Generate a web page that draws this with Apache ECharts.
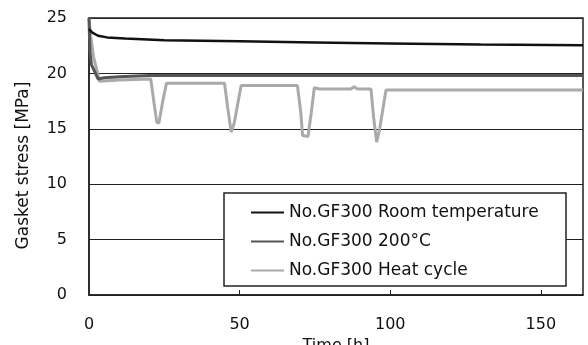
<!DOCTYPE html>
<html lang="ja">
<head>
    <meta charset="UTF-8">
    <title>Gasket stress</title>
    <script src="https://cdn.jsdelivr.net/npm/echarts@6/dist/echarts.min.js"></script>
    <style>
        html, body { margin: 0; padding: 0; background: #fff; }
        #box { width: 588px; height: 345px; }
    </style>
</head>
<body>
    <div id="box"></div>
    <script>
        // 凡例名
        const seriesNames = ['No.GF300 Room temperature', 'No.GF300 200°C', 'No.GF300 Heat cycle']
        const xTicks = [0, 50, 100, 150]

        // Room temperature
        const roomTime = [0, 1, 3, 6, 12, 25, 50, 75, 100, 130, 164]
        const roomStress = [24.0, 23.7, 23.4, 23.25, 23.15, 23.0, 22.9, 22.8, 22.7, 22.6, 22.55]

        // 200°C
        const hotTime = [0, 0.3, 0.8, 3, 5, 10, 20, 164]
        const hotStress = [25, 22, 20.8, 19.5, 19.6, 19.7, 19.8, 19.8]

        // Heat cycle
        const cycleTime = [0, 0.5, 1.5, 3.5, 10, 20.5, 21.5, 22.5, 23.2, 24.5, 25.7, 45, 46, 47.2, 48.2, 50.5,
            69.2, 70.3, 70.9, 72.7, 73.8, 74.8, 76.5, 87, 88, 89, 93.6, 94.5, 95.5, 96.5, 98.6, 164]
        const cycleStress = [25, 23.5, 21.5, 19.3, 19.4, 19.5, 17.5, 15.6, 15.5, 17.5, 19.1, 19.1, 17, 14.7, 15.5, 18.9,
            18.9, 16.5, 14.4, 14.3, 16.5, 18.7, 18.6, 18.6, 18.8, 18.6, 18.6, 16, 13.8, 15, 18.5, 18.5]

        const pairs = (xs, ys) => xs.map((x, i) => [x, ys[i]])

        const font = '"DejaVu Sans", sans-serif'
        var myChart = echarts.init(document.getElementById('box'))
        var option = {
            animation: false,
            grid: {
                left: 89, right: 5, top: 18, bottom: 50,
                outerBoundsMode: 'none',
                show: true, borderColor: '#222', borderWidth: 1.5
            },
            // 凡例の枠
            graphic: [{
                type: 'rect', z: 10,
                shape: { x: 224, y: 193, width: 342, height: 93 },
                style: { fill: '#fff', stroke: '#222', lineWidth: 1.5 }
            }],
            legend: {
                z: 20,
                orient: 'vertical',
                left: 245, top: 199,
                itemWidth: 33, itemHeight: 14, itemGap: 12,
                itemStyle: { opacity: 0 },
                textStyle: { fontFamily: font, fontSize: 17, color: '#111' },
                data: seriesNames
            },
            xAxis: {
                type: 'value', min: 0, max: 164, interval: 50,
                name: 'Time [h]', nameLocation: 'middle', nameGap: 34,
                nameTextStyle: { fontFamily: font, fontSize: 16, color: '#111' },
                axisLine: { lineStyle: { color: '#222', width: 1.5 } },
                axisTick: { inside: true, length: 5, customValues: [50, 100, 150], lineStyle: { color: '#222' } },
                axisLabel: { customValues: xTicks, margin: 22, fontFamily: font, fontSize: 16, color: '#111' },
                splitLine: { show: false }
            },
            yAxis: {
                type: 'value', min: 0, max: 25, interval: 5,
                name: 'Gasket stress [MPa]', nameLocation: 'middle', nameGap: 57,
                nameTextStyle: { fontFamily: font, fontSize: 17, color: '#111', padding: [0, 18, 0, 0] },
                axisLine: { show: true, lineStyle: { color: '#222', width: 1.5 } },
                axisTick: { show: false },
                axisLabel: { margin: 22, fontFamily: font, fontSize: 16, color: '#111' },
                splitLine: { lineStyle: { color: '#222', width: 1.2 } }
            },
            series: [{
                name: seriesNames[0], type: 'line', symbol: 'none', z: 4,
                lineStyle: { color: '#111', width: 2.5 }, itemStyle: { color: '#111' },
                data: pairs(roomTime, roomStress)
            }, {
                name: seriesNames[1], type: 'line', symbol: 'none', z: 3,
                lineStyle: { color: '#555', width: 3 }, itemStyle: { color: '#555' },
                data: pairs(hotTime, hotStress)
            }, {
                name: seriesNames[2], type: 'line', symbol: 'none', z: 2,
                lineStyle: { color: '#aaa', width: 3 }, itemStyle: { color: '#aaa' },
                data: pairs(cycleTime, cycleStress)
            }]
        }
        myChart.setOption(option)
    </script>
</body>
</html>
